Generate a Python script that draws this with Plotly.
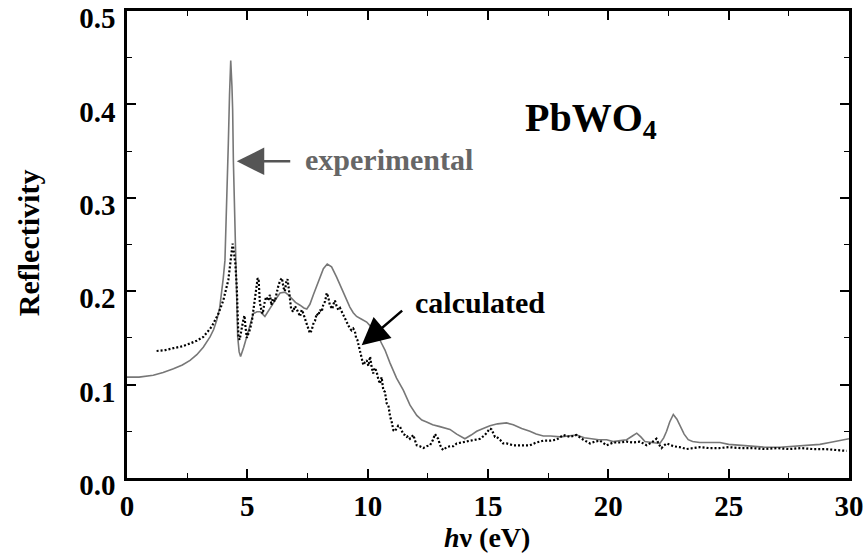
import plotly.graph_objects as go

# Experimental reflectivity (gray solid)
exp_x = [0.0, 0.5, 1.09, 1.5, 1.93, 2.3, 2.62, 2.9, 3.17, 3.45, 3.6, 3.73, 3.85, 3.93, 4.0, 4.07,
         4.14, 4.21, 4.26, 4.31, 4.36, 4.39, 4.42, 4.49, 4.56, 4.6, 4.66, 4.72, 4.85, 4.97, 5.11,
         5.25, 5.40, 5.53, 5.73, 6.01, 6.2, 6.36, 6.56, 6.70, 6.84, 7.0, 7.19, 7.35, 7.47, 7.60,
         7.74, 7.88, 8.02, 8.16, 8.32, 8.50, 8.71, 8.85, 9.0, 9.13, 9.26, 9.40, 9.54, 9.75, 9.96,
         10.17, 10.37, 10.58, 10.72, 10.93, 11.2, 11.48, 11.76, 12.04, 12.25, 12.45, 12.7, 13.0,
         13.42, 13.7, 14.04, 14.3, 14.53, 14.8, 15.08, 15.4, 15.77, 16.05, 16.4, 16.74, 17.0, 17.3,
         17.6, 18.0, 18.3, 18.68, 19.0, 19.24, 19.6, 19.93, 20.2, 20.5, 20.76, 21.0, 21.18, 21.35,
         21.52, 21.8, 22.14, 22.3, 22.42, 22.55, 22.7, 22.85, 22.97, 23.15, 23.32, 23.5, 23.8,
         24.2, 24.64, 25.0, 25.47, 26.0, 26.5, 27.13, 27.6, 27.96, 28.4, 28.79, 29.2, 29.62, 29.83, 30.0]
exp_y = [0.108, 0.108, 0.110, 0.113, 0.117, 0.121, 0.126, 0.132, 0.140, 0.151, 0.159, 0.169, 0.182,
         0.198, 0.214, 0.233, 0.287, 0.358, 0.410, 0.447, 0.420, 0.394, 0.340, 0.269, 0.198, 0.151,
         0.135, 0.130, 0.140, 0.150, 0.163, 0.176, 0.178, 0.178, 0.173, 0.185, 0.192, 0.198, 0.199,
         0.196, 0.192, 0.188, 0.185, 0.182, 0.181, 0.186, 0.196, 0.205, 0.215, 0.224, 0.229, 0.226,
         0.215, 0.207, 0.199, 0.191, 0.183, 0.177, 0.173, 0.170, 0.167, 0.161, 0.155, 0.144, 0.137,
         0.123, 0.107, 0.094, 0.078, 0.067, 0.062, 0.060, 0.057, 0.055, 0.052, 0.047, 0.042, 0.046,
         0.050, 0.053, 0.056, 0.058, 0.059, 0.057, 0.053, 0.050, 0.047, 0.045, 0.045, 0.044, 0.045,
         0.046, 0.043, 0.042, 0.041, 0.041, 0.039, 0.040, 0.041, 0.045, 0.048, 0.044, 0.039, 0.038,
         0.037, 0.043, 0.050, 0.060, 0.068, 0.063, 0.056, 0.047, 0.041, 0.039, 0.038, 0.038, 0.038,
         0.036, 0.035, 0.034, 0.033, 0.033, 0.034, 0.034, 0.035, 0.036, 0.038, 0.040, 0.041, 0.042]

# Calculated reflectivity (black dotted)
calc_x = [1.23, 1.6, 1.93, 2.3, 2.62, 2.9, 3.17, 3.52, 3.8, 4.0, 4.21, 4.32, 4.39, 4.45, 4.5, 4.56,
          4.6, 4.63, 4.68, 4.72, 4.78, 4.84, 4.88, 4.93, 4.98, 5.05, 5.12, 5.2, 5.28, 5.36, 5.43,
          5.47, 5.52, 5.58, 5.64, 5.70, 5.78, 5.86, 5.94, 6.0, 6.06, 6.14, 6.22, 6.30, 6.38, 6.44,
          6.50, 6.56, 6.62, 6.67, 6.72, 6.78, 6.82, 6.9, 6.98, 7.05, 7.12, 7.19, 7.26, 7.33, 7.40,
          7.47, 7.54, 7.60, 7.67, 7.74, 7.81, 7.88, 7.95, 8.02, 8.09, 8.16, 8.23, 8.30, 8.36, 8.43,
          8.48, 8.53, 8.59, 8.64, 8.71, 8.78, 8.85, 8.92, 9.0, 9.06, 9.13, 9.19, 9.26, 9.33, 9.40,
          9.47, 9.52, 9.57, 9.62, 9.65, 9.70, 9.75, 9.82, 9.89, 9.96, 10.03, 10.1, 10.17, 10.23,
          10.30, 10.37, 10.44, 10.51, 10.58, 10.65, 10.72, 10.79, 10.86, 10.93, 11.0, 11.07, 11.13,
          11.2, 11.27, 11.34, 11.41, 11.48, 11.55, 11.62, 11.69, 11.76, 11.83, 11.9, 11.97, 12.04,
          12.17, 12.31, 12.45, 12.59, 12.7, 12.8, 12.87, 12.93, 13.0, 13.07, 13.14, 13.28, 13.42,
          13.56, 13.70, 13.9, 14.11, 14.3, 14.53, 14.67, 14.87, 15.0, 15.08, 15.15, 15.22, 15.29,
          15.36, 15.5, 15.63, 15.77, 16.05, 16.33, 16.74, 17.0, 17.30, 17.6, 17.85, 18.13, 18.4,
          18.68, 18.96, 19.24, 19.45, 19.65, 19.93, 20.2, 20.5, 20.76, 21.0, 21.31, 21.59, 21.8,
          22.0, 22.1, 22.21, 22.32, 22.42, 22.7, 22.97, 23.25, 23.5, 23.8, 24.2, 24.6, 25.0, 25.5,
          26.0, 26.5, 27.0, 27.5, 28.0, 28.5, 29.0, 29.5, 29.9]
calc_y = [0.136, 0.137, 0.139, 0.141, 0.144, 0.147, 0.151, 0.162, 0.176, 0.190, 0.212, 0.235, 0.251,
          0.240, 0.230, 0.205, 0.175, 0.151, 0.148, 0.155, 0.162, 0.170, 0.174, 0.160, 0.150, 0.155,
          0.160, 0.170, 0.185, 0.200, 0.214, 0.212, 0.188, 0.180, 0.176, 0.186, 0.194, 0.190, 0.196,
          0.185, 0.192, 0.189, 0.198, 0.207, 0.212, 0.214, 0.204, 0.200, 0.210, 0.213, 0.203, 0.190,
          0.181, 0.178, 0.184, 0.181, 0.176, 0.173, 0.180, 0.176, 0.170, 0.165, 0.160, 0.155, 0.158,
          0.165, 0.168, 0.176, 0.174, 0.180, 0.178, 0.186, 0.189, 0.198, 0.194, 0.185, 0.183, 0.181,
          0.187, 0.190, 0.184, 0.180, 0.182, 0.178, 0.174, 0.171, 0.167, 0.164, 0.160, 0.158, 0.160,
          0.157, 0.150, 0.148, 0.143, 0.140, 0.134, 0.130, 0.121, 0.124, 0.126, 0.120, 0.130, 0.118,
          0.112, 0.118, 0.114, 0.106, 0.101, 0.108, 0.094, 0.092, 0.080, 0.078, 0.066, 0.060, 0.051,
          0.050, 0.053, 0.056, 0.055, 0.050, 0.047, 0.046, 0.044, 0.045, 0.042, 0.044, 0.046, 0.040,
          0.035, 0.034, 0.032, 0.034, 0.035, 0.040, 0.047, 0.044, 0.042, 0.036, 0.032, 0.030, 0.033,
          0.034, 0.034, 0.037, 0.038, 0.039, 0.040, 0.041, 0.042, 0.046, 0.050, 0.053, 0.052, 0.047,
          0.044, 0.044, 0.041, 0.037, 0.037, 0.035, 0.035, 0.035, 0.038, 0.040, 0.040, 0.041, 0.046,
          0.044, 0.046, 0.041, 0.037, 0.039, 0.040, 0.035, 0.038, 0.038, 0.039, 0.038, 0.039, 0.035,
          0.038, 0.042, 0.036, 0.032, 0.035, 0.037, 0.034, 0.033, 0.031, 0.032, 0.033, 0.032, 0.032,
          0.033, 0.032, 0.032, 0.031, 0.032, 0.031, 0.032, 0.031, 0.031, 0.030, 0.029]

x_ticks = [0, 5, 10, 15, 20, 25, 30]
y_ticks = [0.0, 0.1, 0.2, 0.3, 0.4, 0.5]

FONT = "Liberation Serif, Times New Roman, serif"
GRAY = "#777777"

fig = go.Figure()
fig.add_trace(go.Scatter(x=exp_x, y=exp_y, mode="lines",
                         line=dict(color=GRAY, width=1.6), showlegend=False))
fig.add_trace(go.Scatter(x=calc_x, y=calc_y, mode="lines",
                         line=dict(color="black", width=2.2, dash="2px,2px"), showlegend=False))

axis_common = dict(showgrid=False, zeroline=False, showline=True, linecolor="black",
                   linewidth=2.5, mirror="allticks", ticks="inside", ticklen=9, tickwidth=1.5,
                   tickcolor="black", automargin=False, ticklabeloverflow="allow",
                   tickfont=dict(family=FONT, size=29, color="black"))

fig.update_xaxes(range=[0, 30], tickvals=x_ticks, ticktext=[f"<b>{v}</b>" for v in x_ticks],
                 ticklabelstandoff=0,
                 minor=dict(ticks="inside", ticklen=5, tickwidth=1.2, tickcolor="black", dtick=2.5),
                 **axis_common)
fig.update_yaxes(range=[0, 0.5], tickvals=y_ticks, ticktext=[f"<b>{v:.1f}</b>" for v in y_ticks],
                 ticklabelstandoff=3, ticklabelshift=7,
                 minor=dict(ticks="inside", ticklen=5, tickwidth=1.2, tickcolor="black", dtick=0.05),
                 **axis_common)

# Annotations
fig.add_annotation(x=4.56, y=0.339, ax=55, ay=0, xref="x", yref="y", text="",
                   showarrow=True, arrowhead=2, arrowsize=2.2, arrowwidth=2.5, arrowcolor="#555555")
fig.add_annotation(x=10.9, y=0.341, xref="x", yref="y", showarrow=False,
                   xanchor="center", yanchor="middle",
                   text="<b>experimental</b>", font=dict(family=FONT, size=30, color="#666666"))
fig.add_annotation(x=9.75, y=0.142, ax=42, ay=-36, xref="x", yref="y", text="",
                   showarrow=True, arrowhead=2, arrowsize=2.2, arrowwidth=2.5, arrowcolor="black")
fig.add_annotation(x=14.67, y=0.188, xref="x", yref="y", showarrow=False,
                   xanchor="center", yanchor="middle",
                   text="<b>calculated</b>", font=dict(family=FONT, size=30, color="black"))
fig.add_annotation(x=19.3, y=0.383, xref="x", yref="y", showarrow=False,
                   xanchor="center", yanchor="middle",
                   text="<b>PbWO<sub>4</sub></b>", font=dict(family=FONT, size=40, color="black"))

# Axis titles
fig.add_annotation(x=-0.137, y=0.503, xref="paper", yref="paper", showarrow=False, textangle=-90,
                   xanchor="center", yanchor="middle",
                   text="<b>Reflectivity</b>", font=dict(family=FONT, size=30, color="black"))
fig.add_annotation(x=0.499, y=-0.128, xref="paper", yref="paper", showarrow=False,
                   xanchor="center", yanchor="middle",
                   text="<b><i>h</i>ν (eV)</b>", font=dict(family=FONT, size=28, color="black"))

fig.update_layout(width=865, height=558, margin=dict(l=127, r=16, t=11, b=80),
                  plot_bgcolor="white", paper_bgcolor="white")

fig.write_html("out.html")
